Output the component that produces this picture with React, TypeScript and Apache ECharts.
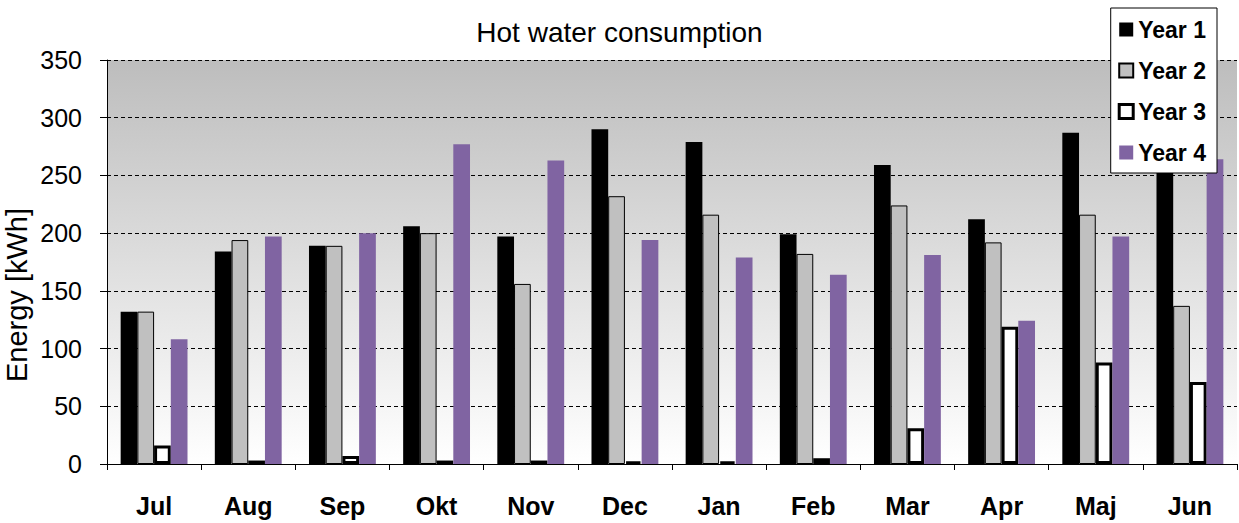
import React, { useEffect, useRef } from "react";
import * as echarts from "echarts";

const categories = ["Jul", "Aug", "Sep", "Okt", "Nov", "Dec", "Jan", "Feb", "Mar", "Apr", "Maj", "Jun"];
const year1 = [132, 184, 189, 206, 197, 290, 279, 199, 259, 212, 287, 262];
const year2 = [132, 194, 189, 200, 156, 232, 216, 182, 224, 192, 216, 137];
const year3 = [16, 3, 7, 3, 3, 2, 2, 5, 31, 119, 88, 71];
const year4 = [108, 197, 200, 277, 263, 194, 179, 164, 181, 124, 197, 264];
const seriesNames = ["Year 1", "Year 2", "Year 3", "Year 4"];
const yTicks = { min: 0, max: 350, interval: 50 };

const FONT = "Arial, 'Liberation Sans', sans-serif";

export default function App() {
  const ref = useRef<HTMLDivElement>(null);
  useEffect(() => {
    if (!ref.current) return;
    const chart = echarts.init(ref.current, null, { renderer: "svg" });
    chart.setOption({
      animation: false,
      backgroundColor: "#ffffff",
      title: {
        text: "Hot water consumption",
        left: "center",
        top: 13,
        padding: 5,
        textStyle: { fontFamily: FONT, fontSize: 28, fontWeight: "normal", color: "#000" },
      },
      legend: {
        orient: "vertical",
        right: 22,
        top: 8,
        icon: "rect",
        itemWidth: 14,
        itemHeight: 14,
        itemGap: 18,
        itemTextGap: 7,
        padding: [10, 11, 9, 7],
        backgroundColor: "#ffffff",
        borderColor: "#000",
        borderWidth: 1,
        data: [
          { name: seriesNames[0] },
          { name: seriesNames[1] },
          { name: seriesNames[2], itemStyle: { color: "#ffffff", borderColor: "#000", borderWidth: 3 } },
          { name: seriesNames[3] },
        ],
        textStyle: { fontFamily: FONT, fontSize: 23, fontWeight: "bold", color: "#000" },
      },
      graphic: [
        {
          type: "text",
          x: 17,
          y: 295,
          rotation: Math.PI / 2,
          style: {
            text: "Energy [kWh]",
            font: "normal 29px Arial, 'Liberation Sans', sans-serif",
            fill: "#000",
            textAlign: "center",
            textVerticalAlign: "middle",
          },
        },
      ],
      grid: {
        left: 107,
        right: 2,
        top: 60,
        bottom: 59,
        show: true,
        borderWidth: 0,
        backgroundColor: new echarts.graphic.LinearGradient(0, 0, 0, 1, [
          { offset: 0, color: "#bdbdbd" },
          { offset: 1, color: "#ffffff" },
        ]),
      },
      xAxis: {
        type: "category",
        data: categories,
        axisLine: { lineStyle: { color: "#000", width: 1 } },
        axisTick: { show: true, length: 6, lineStyle: { color: "#000" } },
        axisLabel: { margin: 29, fontFamily: FONT, fontSize: 25, fontWeight: "bold", color: "#000" },
      },
      yAxis: {
        type: "value",
        min: yTicks.min,
        max: yTicks.max,
        interval: yTicks.interval,
        axisLine: { show: true, lineStyle: { color: "#000", width: 1 } },
        axisTick: { show: true, length: 7, lineStyle: { color: "#000" } },
        axisLabel: { margin: 25, fontFamily: FONT, fontSize: 25, color: "#000" },
        splitLine: { show: true, lineStyle: { color: "#000", type: [4, 3], width: 1 } },
      },
      series: [
        {
          name: seriesNames[0],
          type: "bar",
          data: year1,
          barGap: "0%",
          barCategoryGap: "29%",
          itemStyle: { color: "#000000" },
        },
        {
          name: seriesNames[1],
          type: "bar",
          data: year2,
          itemStyle: { color: "#c0c0c0", borderColor: "#000", borderWidth: 1 },
        },
        {
          name: seriesNames[2],
          type: "bar",
          data: year3,
          itemStyle: { color: "#ffffff", borderColor: "#000", borderWidth: 3 },
        },
        {
          name: seriesNames[3],
          type: "bar",
          data: year4,
          itemStyle: { color: "#8064a2" },
        },
      ],
    });
    return () => chart.dispose();
  }, []);
  return (
    <div
      ref={ref}
      style={{ position: "fixed", left: 0, top: 0, width: 1239, height: 523 }}
    />
  );
}
